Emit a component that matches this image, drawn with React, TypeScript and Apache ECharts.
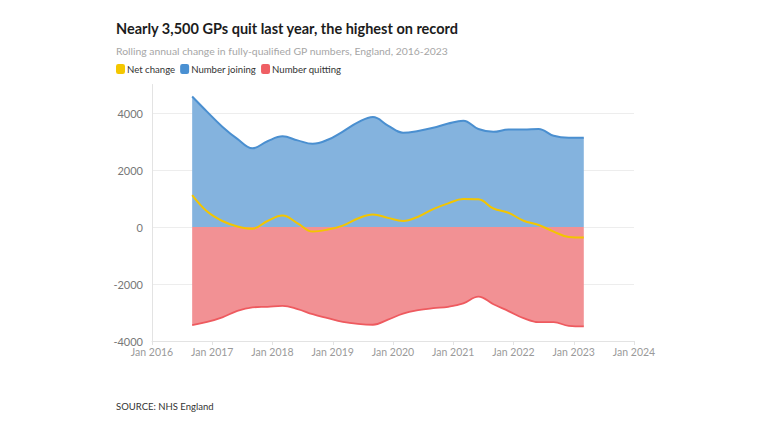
import React, { useEffect, useRef } from "react";
import * as echarts from "echarts";

const TITLE = "Nearly 3,500 GPs quit last year, the highest on record";
const SUBTITLE = "Rolling annual change in fully-qualified GP numbers, England, 2016-2023";
const SOURCE = "SOURCE: NHS England";

const months = [
  "2016-09", "2016-12", "2017-03", "2017-06", "2017-09", "2017-12",
  "2018-03", "2018-06", "2018-09", "2018-12", "2019-03", "2019-06",
  "2019-09", "2019-12", "2020-03", "2020-06", "2020-09", "2020-12",
  "2021-03", "2021-06", "2021-09", "2021-12", "2022-03", "2022-06",
  "2022-09", "2022-12", "2023-03",
];

const joining = [
  4580, 4040, 3520, 3090, 2760, 3010, 3180, 3040, 2920, 3060, 3350, 3670,
  3860, 3560, 3310, 3370, 3480, 3630, 3730, 3440, 3340, 3420, 3420, 3440,
  3200, 3130, 3130,
];

const quitting = [
  -3440, -3330, -3170, -2940, -2820, -2800, -2770, -2880, -3060, -3200, -3330, -3400,
  -3430, -3250, -3040, -2920, -2850, -2800, -2680, -2440, -2710, -2950, -3200, -3340,
  -3340, -3470, -3490,
];

const net = [
  1120, 540, 210, 20, -60, 210, 400, 130, -160, -90, 50, 300,
  440, 320, 210, 360, 630, 830, 980, 970, 650, 500, 220, 70,
  -160, -350, -370,
];

const xYears = [2016, 2017, 2018, 2019, 2020, 2021, 2022, 2023, 2024];
const yTicks = [-4000, -2000, 0, 2000, 4000];

const toYear = (m: string) => {
  const [y, mo] = m.split("-").map(Number);
  return y + (mo - 1) / 12;
};

const pairs = (vals: number[]) => months.map((m, i) => [toYear(m), vals[i]]);

const FONT = "Lato, 'Open Sans', sans-serif";

export default function App() {
  const ref = useRef<HTMLDivElement>(null);

  useEffect(() => {
    if (!ref.current) return;
    const chart = echarts.init(ref.current, undefined, { renderer: "svg" });
    chart.setOption({
      animation: false,
      backgroundColor: "#ffffff",
      textStyle: { fontFamily: FONT },
      graphic: [
        {
          type: "text",
          left: 116,
          top: 21,
          style: { text: TITLE, font: `bold 14.5px ${FONT}`, fill: "#1c1c1c" },
        },
        {
          type: "text",
          left: 116,
          top: 46,
          style: { text: SUBTITLE, font: `10.4px ${FONT}`, fill: "#a6a6a6" },
        },
        {
          type: "text",
          left: 116,
          top: 401,
          style: { text: SOURCE, font: `9.5px ${FONT}`, fill: "#333333" },
        },
      ],
      legend: {
        left: 116,
        top: 64,
        padding: 0,
        itemWidth: 9,
        itemHeight: 10,
        itemGap: 5,
        icon: "roundRect",
        textStyle: { fontSize: 9.6, color: "#333", fontFamily: FONT, padding: [0, 0, 0, -3] },
        data: ["Net change", "Number joining", "Number quitting"],
      },
      grid: { left: 152, right: 134, top: 84.5, bottom: 91 },
      xAxis: {
        type: "value",
        min: xYears[0],
        max: xYears[xYears.length - 1],
        interval: 1,
        axisLine: { onZero: false, lineStyle: { color: "#e3e3e3" } },
        axisTick: { show: true, length: 4, lineStyle: { color: "#e3e3e3" } },
        splitLine: { show: false },
        axisLabel: {
          color: "#9a9a9a",
          fontSize: 10.5,
          margin: 5,
          formatter: (v: number) => (xYears.includes(v) ? `Jan ${v}` : ""),
        },
      },
      yAxis: {
        type: "value",
        min: yTicks[0],
        max: 5000,
        interval: 2000,
        axisLine: { show: true, lineStyle: { color: "#e3e3e3" } },
        axisTick: { show: false },
        splitLine: { show: true, showMaxLine: false, lineStyle: { color: "#ededed" } },
        axisLabel: {
          color: "#777",
          fontSize: 11,
          margin: 9,
          showMaxLabel: false,
          formatter: (v: number) => (yTicks.includes(v) ? String(v) : ""),
        },
      },
      series: [
        {
          name: "Number joining",
          type: "line",
          data: pairs(joining),
          smooth: 0.4,
          showSymbol: false,
          symbol: "none",
          itemStyle: { color: "#4a90d2" },
          lineStyle: { color: "#4a8fd0", width: 2 },
          areaStyle: { color: "#84b3de", opacity: 1 },
          z: 2,
        },
        {
          name: "Number quitting",
          type: "line",
          data: pairs(quitting),
          smooth: 0.4,
          showSymbol: false,
          symbol: "none",
          itemStyle: { color: "#ef5f64" },
          lineStyle: { color: "#ee5a5f", width: 1.8 },
          areaStyle: { color: "#f29194", opacity: 1 },
          z: 2,
        },
        {
          name: "Net change",
          type: "line",
          data: pairs(net),
          smooth: 0.4,
          showSymbol: false,
          symbol: "none",
          itemStyle: { color: "#f4c700" },
          lineStyle: { color: "#f3c500", width: 2 },
          z: 3,
        },
      ],
    });
    return () => chart.dispose();
  }, []);

  return (
    <div
      ref={ref}
      style={{ position: "fixed", left: 0, top: 0, width: 768, height: 432 }}
    />
  );
}
